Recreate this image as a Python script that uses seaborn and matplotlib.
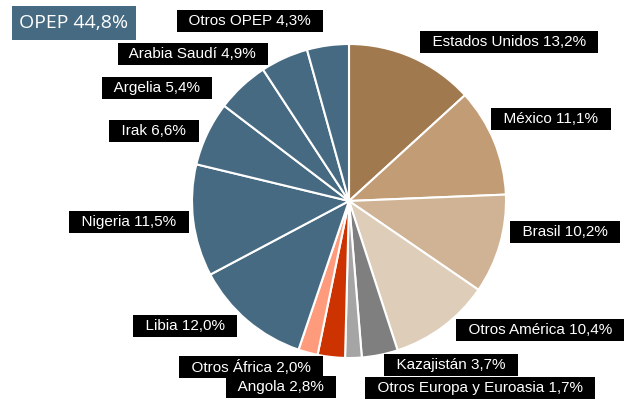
import matplotlib
matplotlib.use('Agg')
import matplotlib.pyplot as plt
import seaborn as sns

sns.set_style('white')
plt.rcParams['font.family'] = ['Liberation Sans', 'DejaVu Sans']

# production share by country / region (clockwise from the top)
paises = ['Estados Unidos', 'México', 'Brasil', 'Otros América', 'Kazajistán',
          'Otros Europa y Euroasia', 'Angola', 'Otros África', 'Libia', 'Nigeria',
          'Irak', 'Argelia', 'Arabia Saudí', 'Otros OPEP']
cuotas = [13.2, 11.1, 10.2, 10.4, 3.7, 1.7, 2.8, 2.0, 12.0, 11.5, 6.6, 5.4, 4.9, 4.3]
opep_total = 44.8

azul = '#466a82'
colores = ['#a0794e', '#c19c74', '#cfb394', '#decdb8', '#7f7f7f', '#a5a5a5',
           '#cc3300', '#ff9b7d', azul, azul, azul, azul, azul, azul]

# label box centres in pixels (x from left, y from top)
pos_etiquetas = [(509, 42), (551, 119), (565, 232), (540, 330), (451, 365),
                 (480, 388), (281, 387), (251, 367), (185, 326), (129, 222),
                 (154, 131), (157, 88), (193, 54), (250, 21)]

fig = plt.figure(figsize=(6.33, 4.01), dpi=100)
ax = fig.add_axes([0, 0, 1, 1])

# y axis runs downward, so start at -90 to begin at the top and go clockwise
ax.pie(cuotas, colors=colores, startangle=-90, counterclock=True,
       center=(349, 201), radius=157, frame=True,
       wedgeprops=dict(edgecolor='white', linewidth=1.5))
ax.set_xlim(0, 633)
ax.set_ylim(401, 0)
ax.set_aspect('equal')
ax.axis('off')

def fmt(v):
    return f'{v:.1f}'.replace('.', ',') + '%'

for nombre, v, (x, y) in zip(paises, cuotas, pos_etiquetas):
    ax.text(x, y, f'  {nombre} {fmt(v)}  ', color='white', fontsize=11,
            ha='center', va='center',
            bbox=dict(boxstyle='square,pad=0.25', facecolor='black', edgecolor='none'))

ax.text(74, 23, f'OPEP {fmt(opep_total)}', color='white', fontsize=14,
        family=['Open Sans', 'DejaVu Sans'], ha='center', va='center',
        bbox=dict(boxstyle='square,pad=0.4', facecolor=azul, edgecolor='none'))

fig.savefig('out.png', dpi=100)
